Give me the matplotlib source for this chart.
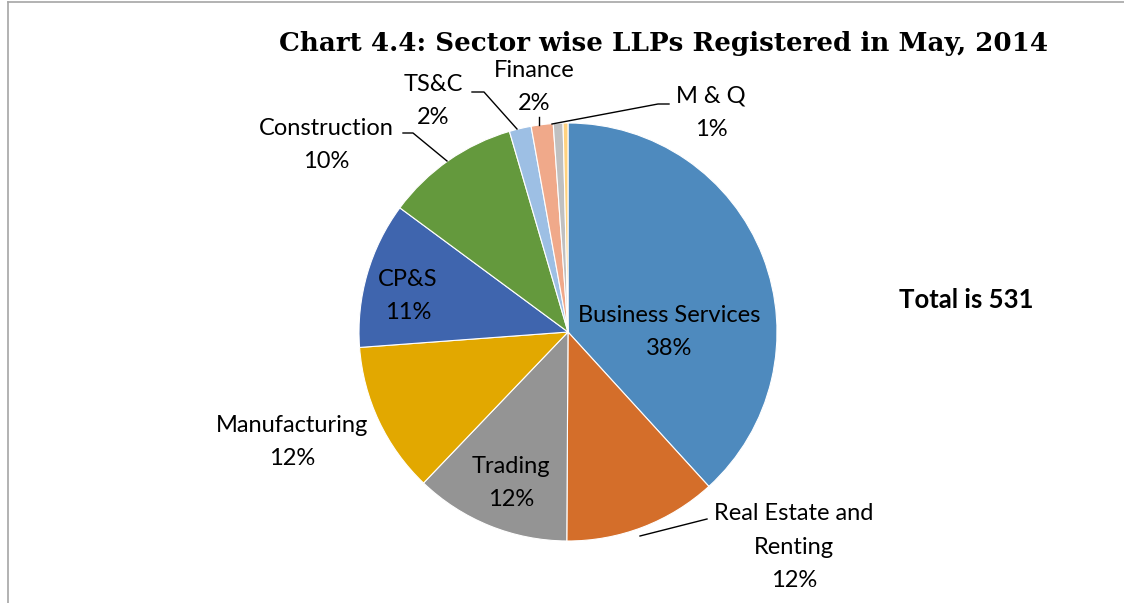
import matplotlib
matplotlib.use("Agg")
import matplotlib.pyplot as plt
from matplotlib.lines import Line2D

# sector wise LLP counts, May 2014 (total 531)
sectors = ["Business Services", "Real Estate and\nRenting", "Trading", "Manufacturing",
           "CP&S", "Construction", "TS&C", "Finance", "M & Q", "Others"]
counts = [203, 63, 64, 62, 60, 55, 9, 9, 4, 2]
colors = ["#4E8ABE", "#D46E2A", "#949494", "#E2A800", "#3F65AE", "#64993D",
          "#9DBFE4", "#F0A98A", "#C0C0C0", "#FFD27F"]

total = sum(counts)

W, H = 1124, 603
cx, cy, R = 568, 332, 209  # pie centre / radius in pixels


def px(x, y):
    # pixel position (from top-left) -> data coords with pie radius 1
    return (x - cx) / R, (cy - y) / R


fig = plt.figure(figsize=(W / 100, H / 100), dpi=100)
ax = fig.add_axes([0, 0, 1, 1])

ax.pie(counts, colors=colors, startangle=90, counterclock=False, radius=1,
       wedgeprops=dict(edgecolor='white', linewidth=0.8))

# pie() resets the limits, so set them afterwards
ax.set_xlim(-cx / R, (W - cx) / R)
ax.set_ylim(-(H - cy) / R, cy / R)
ax.set_aspect('equal')
ax.axis('off')

# label positions (pixels) for each labelled slice
label_pos = {
    "Business Services": (669, 332),
    "Real Estate and\nRenting": (794, 547),
    "Trading": (511, 483),
    "Manufacturing": (292, 442),
    "CP&S": (408, 296),
    "Construction": (326, 145),
    "TS&C": (433, 101),
    "Finance": (534, 87),
    "M & Q": (711, 113),
}
for name, n in zip(sectors, counts):
    if name not in label_pos:
        continue
    x, y = px(*label_pos[name])
    ax.text(x, y, f"{name}\n{round(100 * n / total)}%", ha='center', va='center',
            fontsize=17, family='Lato', linespacing=1.75, color='black')

# leader lines (pixel paths)
leaders = [
    [(640, 536), (707, 519)],
    [(403, 133), (413, 133), (447, 161)],
    [(472, 92), (484, 92), (517, 129)],
    [(539, 117), (539, 125)],
    [(669, 104), (658, 104), (552, 124)],
]
for path in leaders:
    xs, ys = zip(*[px(*p) for p in path])
    ax.plot(xs, ys, color='black', linewidth=1)

x, y = px(966, 300)
ax.text(x, y, "Total is 531", ha='center', va='center', fontsize=18.5,
        fontweight='bold', family='Lato')

fig.text(664 / W, 1 - 43 / H, "Chart 4.4: Sector wise LLPs Registered in May, 2014",
         ha='center', va='center', fontsize=18.8, fontweight='bold', family='DejaVu Serif')

# chart border (left and top edges visible)
fig.add_artist(Line2D([8 / W, 8 / W], [0, 1 - 2 / H], color='#A6A6A6', linewidth=1.2))
fig.add_artist(Line2D([8 / W, 1], [1 - 2 / H, 1 - 2 / H], color='#A6A6A6', linewidth=1.2))

plt.savefig("out.png", dpi=100)
plt.close()
